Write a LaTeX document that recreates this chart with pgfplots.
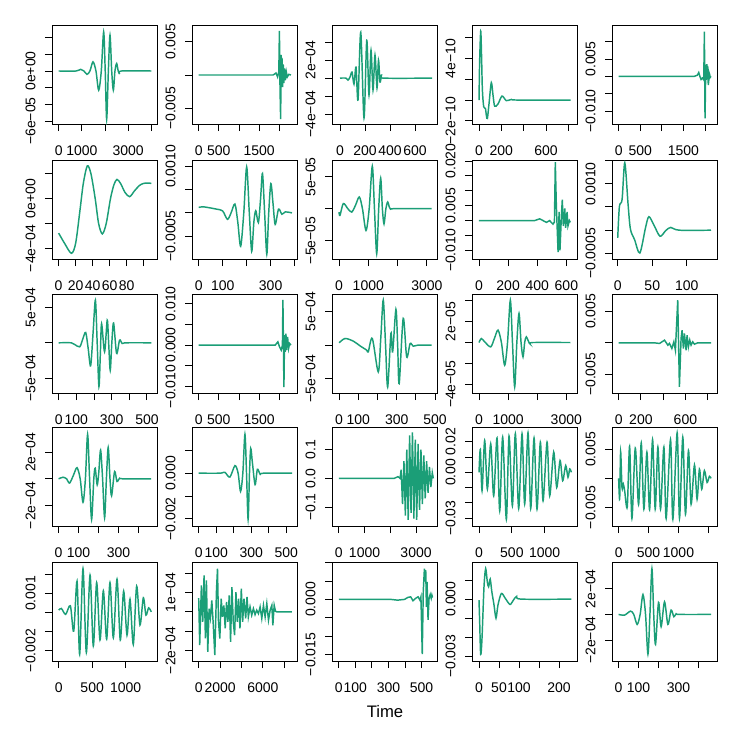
\documentclass[border=0pt]{standalone}
\usepackage{fontspec}
\setmainfont{Liberation Sans}
\usepackage{pgfplots}
\pgfplotsset{compat=1.18}
\definecolor{wave}{HTML}{1B9E77}
\pgfplotsset{
  P/.style={scale only axis, width=78.75pt, height=74.25pt, anchor=north west,
    axis line style={line width=0.7pt}, tick align=outside, xtick pos=bottom, ytick pos=left,
    major tick length=5.25pt, tick style={black, line width=0.7pt},
    scaled x ticks=false, scaled y ticks=false,
    tick label style={font=\fontsize{10.5}{12}\selectfont},
    xticklabel style={anchor=north, yshift=-7.4pt},
    yticklabel style={xshift=-3.5pt, rotate=90, anchor=south},
  },
  W/.style={color=wave, line width=1.1pt, mark=none},
  S/.style={W, smooth, tension=0.5},
}
\begin{document}
\begin{tikzpicture}
\path[use as bounding box] (0,0) rectangle (551.25pt,-551.25pt);
% ---------- row 1 ----------
\begin{axis}[P, at={(39pt,-18.75pt)}, xmin=-288, xmax=4245, ymin=-6.36, ymax=5.52,
  xtick={0,1000,2000,3000,4000}, xticklabels={0,1000,,3000,},
  ytick={-6,-4,-2,0,2,4}, yticklabels={−6e−05,,,0e+00,,}]
\addplot[S] coordinates {(0,0)(750,0)(950,0.2)(1090,0)(1223,-0.4)(1350,0)(1482,1.1)(1610,0)(1727,-2.3)(1840,0)(1942,4.7)(2010,0)(2072,-5.8)(2145,0)(2216,4.3)(2290,0)(2360,-2.3)(2430,0)(2504,0.9)(2570,0)(2633,-0.36)(2700,0)(4000,0)};
\end{axis}
\begin{axis}[P, at={(144pt,-18.75pt)}, xmin=-167, xmax=2442, ymin=-7.35, ymax=7.5,
  xtick={0,500,1000,1500,2000}, xticklabels={0,500,,1500,},
  ytick={-5,0,5}, yticklabels={−0.005,,0.005}]
\addplot[W] coordinates {(0,0)(1850,0)(1920,0.3)(1960,-0.3)(1990,0.5)(2005,6.6)(2020,-2)(2035,-6.6)(2050,3)(2062,-1)(2070,2.5)(2085,-1.8)(2100,1.6)(2115,-1.2)(2130,1)(2150,-0.8)(2175,0.5)(2200,-0.3)(2240,0.1)(2292,0)};
\end{axis}
\begin{axis}[P, at={(249pt,-18.75pt)}, xmin=-64, xmax=776, ymin=-5.1, ymax=5.9,
  xtick={0,200,400,600}, xticklabels={0,200,400,600},
  ytick={-4,-2,0,2,4}, yticklabels={−4e−04,,,2e−04,}]
\addplot[S] coordinates {(0,0)(48,0)(64,-0.22)(80,0.11)(96,0.67)(112,-0.67)(128,1.22)(144,-2.44)(166,5.1)(192,-4.44)(214,4.2)(232,-1.9)(248,3.1)(264,-1.33)(280,2.56)(296,-1.1)(308,2.0)(320,-0.44)(332,0.33)(344,0)(736,0)};
\end{axis}
\begin{axis}[P, at={(354pt,-18.75pt)}, xmin=-63, xmax=878, ymin=-2.3, ymax=7.2,
  xtick={0,200,400,600,800}, xticklabels={0,200,,600,},
  ytick={-2,0,2,4,6}, yticklabels={−2e−10,,,4e−10,}]
\addplot[S] coordinates {(0,0)(5,3.5)(15,6.6)(22,4.5)(30,1)(42,-0.64)(57,-0.8)(66,-1.5)(75,-1.76)(90,-0.3)(110,1.67)(125,0.5)(140,-0.58)(170,-0.38)(206,0.38)(245,-0.06)(290,0.06)(340,0)(820,0)};
\end{axis}
\begin{axis}[P, at={(459pt,-18.75pt)}, xmin=-154, xmax=2277, ymin=-13.75, ymax=14.8,
  xtick={0,500,1000,1500,2000}, xticklabels={0,500,,1500,},
  ytick={-10,-5,0,5,10}, yticklabels={−0.010,,,0.005,}]
\addplot[W] coordinates {(0,0)(1750,0)(1820,0.3)(1854,1.1)(1880,0)(1908,-0.9)(1940,-0.5)(1970,-1)(1985,12.9)(1995,-6)(2000,-12.1)(2010,-3)(2018,3.4)(2028,-1)(2040,3.5)(2050,-0.5)(2062,3)(2075,-2.5)(2085,-1.5)(2095,1)(2108,0.5)(2120,-0.3)(2138,0)};
\end{axis}
% ---------- row 2 ----------
\begin{axis}[P, at={(39pt,-120pt)}, xmin=-7.8, xmax=115.7, ymin=-4.86, ymax=3.1,
  xtick={0,20,40,60,80,100}, xticklabels={0,20,40,60,80,},
  ytick={-4,-2,0,2}, yticklabels={−4e−04,,0e+00,}]
\addplot[S] coordinates {(0,-2.78)(7,-3.6)(15,-4.4)(20,-3.6)(25,-1)(29,1.2)(33.7,2.62)(38,2)(43,0)(47,-2)(51.4,-2.84)(56,-2)(61,0)(65,1.1)(68.6,1.54)(73,1.2)(78,0.5)(83.5,0.15)(89,0.6)(95,1.05)(100,1.22)(105,1.25)(109,1.22)};
\end{axis}
\begin{axis}[P, at={(144pt,-120pt)}, xmin=-28, xmax=410, ymin=-9.95, ymax=11.4,
  xtick={0,100,200,300,400}, xticklabels={0,100,,300,},
  ytick={-5,0,5,10}, yticklabels={−0.0005,,,0.0010}]
\addplot[S] coordinates {(0,1.17)(20,1.3)(75,0.8)(100,0.4)(120,-1.4)(135,0)(151,1.9)(163,-2)(175,-7.2)(188,0)(200,9.9)(211,0)(221,-8.3)(230,-2)(238,0.44)(249,-2.1)(258,3)(266,8.5)(275,0)(284,-8.9)(292,0)(301,6.3)(310,2)(319,-2.5)(333,0.8)(347,-0.3)(361,0.2)(389,0)};
\end{axis}
\begin{axis}[P, at={(249pt,-120pt)}, xmin=-239, xmax=3345, ymin=-7.94, ymax=7.67,
  xtick={0,1000,2000,3000}, xticklabels={0,1000,,3000},
  ytick={-5,0,5}, yticklabels={−5e−05,,5e−05}]
\addplot[S] coordinates {(0,-0.54)(34,-1.06)(147,0.8)(300,0)(433,-0.54)(560,0.5)(693,1.84)(800,0)(922,-3.44)(1030,0)(1137,6.7)(1210,0)(1287,-7.1)(1355,0)(1423,4.8)(1480,0)(1536,-2.4)(1600,0)(1662,1.05)(1720,0.2)(1775,-0.16)(1877,0)(3164,0)};
\end{axis}
\begin{axis}[P, at={(354pt,-120pt)}, xmin=-48, xmax=673, ymin=-12.9, ymax=20.35,
  xtick={0,200,400,600}, xticklabels={0,200,400,600},
  ytick={-10,-5,0,5,10,15,20}, yticklabels={−0.010,,,0.005,,,0.020}]
\addplot[W] coordinates {(0,0)(382,0)(417,0.6)(440,0)(463,-0.6)(485,0)(508,-1.2)(518,-0.5)(524,19.6)(531,5.3)(543,-10.6)(550,2.9)(556,-10)(566,1.8)(572,7)(579,-1.8)(589,4.1)(595,-2.4)(605,2.9)(611,-1.8)(621,0)(627,-0.6)};
\end{axis}
\begin{axis}[P, at={(459pt,-120pt)}, xmin=-8.3, xmax=143.7, ymin=-6.2, ymax=15.1,
  xtick={0,50,100}, xticklabels={0,50,100},
  ytick={-5,0,5,10,15}, yticklabels={−0.0005,,,0.0010,}]
\addplot[S] coordinates {(0,-1.65)(2.4,5.1)(6.3,6.6)(10.2,14.5)(15,5.5)(18.4,0.2)(24.3,-2)(32,-4.9)(40.3,0.6)(45.1,2.9)(52.4,1.1)(61.2,-1.3)(69.4,-0.1)(76.7,0.6)(88.8,0)(135,0)};
\end{axis}
% ---------- row 3 ----------
\begin{axis}[P, at={(39pt,-220.5pt)}, xmin=-38, xmax=557, ymin=-7.1, ymax=6.9,
  xtick={0,100,200,300,400,500}, xticklabels={0,100,,300,,500},
  ytick={-5,0,5}, yticklabels={−5e−04,,5e−04}]
\addplot[S] coordinates {(0,0)(72,0)(91,-0.24)(119,-0.57)(136,0.5)(153,1.46)(167,-0.8)(181,-3.25)(195,1.5)(208,6.04)(218,0)(228,-6.2)(236,-1.5)(243,2.7)(260,-1.27)(275,3.2)(283,0)(292,-3.9)(301,0)(311,2.8)(328,-1.5)(345,0.38)(360,-0.1)(383,0)(525,0)};
\end{axis}
\begin{axis}[P, at={(144pt,-220.5pt)}, xmin=-167, xmax=2442, ymin=-11.6, ymax=12.4,
  xtick={0,500,1000,1500,2000}, xticklabels={0,500,,1500,},
  ytick={-10,-5,0,5,10}, yticklabels={−0.010,,0.000,,0.010}]
\addplot[W] coordinates {(0,0)(1900,0)(1967,0.8)(2008,-0.4)(2050,-1.2)(2080,0)(2092,11)(2117,-10.2)(2133,2.4)(2150,-1.6)(2167,2.8)(2183,-1.2)(2208,2)(2233,-0.8)(2258,0.4)(2292,0)};
\end{axis}
\begin{axis}[P, at={(249pt,-220.5pt)}, xmin=-37, xmax=510, ymin=-7.15, ymax=7.65,
  xtick={0,100,200,300,400,500}, xticklabels={0,100,,300,,500},
  ytick={-5,0,5}, yticklabels={−5e−04,,5e−04}]
\addplot[S] coordinates {(0,0.35)(31,1.0)(74,0.6)(109,-0.1)(144,-0.75)(152,-1.0)(173,1.0)(204,-4.0)(217,1)(230,6.75)(242,0)(253,-6.25)(270,1.75)(279,-1.0)(296,5.35)(305,0)(313,-5.75)(334,4.0)(352,-1.75)(370,0.25)(386,-0.15)(410,0)(482,0)};
\end{axis}
\begin{axis}[P, at={(354pt,-220.5pt)}, xmin=-241, xmax=3368, ymin=-4.84, ymax=4.65,
  xtick={0,1000,2000,3000}, xticklabels={0,1000,,3000},
  ytick={-4,-2,0,2,4}, yticklabels={−4e−05,,,2e−05,}]
\addplot[S] coordinates {(0,0)(80,0.38)(200,0.05)(401,-0.42)(530,0.4)(653,1.19)(770,0)(882,-2.18)(980,0)(1077,4.07)(1150,0)(1226,-4.26)(1300,0)(1375,2.79)(1445,0)(1512,-1.38)(1570,0)(1627,0.54)(1741,-0.1)(1850,0)(3139,0)};
\end{axis}
\begin{axis}[P, at={(459pt,-220.5pt)}, xmin=-60, xmax=884, ymin=-7.98, ymax=7.77,
  xtick={0,200,400,600,800}, xticklabels={0,200,,600,},
  ytick={-5,0,5}, yticklabels={−0.005,,0.005}]
\addplot[W] coordinates {(0,0)(322,0)(367,-0.1)(412,0.43)(442,-0.37)(457,-0.1)(478,-0.9)(496,0.16)(510,-1.17)(531,6.8)(546,-7.0)(561,0.7)(570,2.0)(582,-0.9)(591,1.5)(606,-1.17)(615,1.2)(627,-0.64)(639,0.43)(651,-0.37)(666,0.16)(681,-0.21)(710,0)(830,0)};
\end{axis}
% ---------- row 4 ----------
\begin{axis}[P, at={(39pt,-320.25pt)}, xmin=-33, xmax=492, ymin=-3.55, ymax=3.9,
  xtick={0,100,200,300,400}, xticklabels={0,100,,300,},
  ytick={-2,0,2}, yticklabels={−2e−04,,2e−04}]
\addplot[S] coordinates {(0,0)(22,0.12)(40,0)(55,-0.32)(75,0.3)(92,0.84)(108,0)(122,-1.76)(134,0)(145,3.35)(155,0)(165,-3.06)(176,0)(183,0.8)(193,-0.45)(201,0.5)(210,2.16)(220,0)(230,-2.93)(239,0)(248,2.36)(257,0)(265,-1.27)(280,0.55)(292,-0.2)(305,0.05)(322,0)(463,0)};
\end{axis}
\begin{axis}[P, at={(144pt,-320.25pt)}, xmin=-38, xmax=561, ymin=-2.31, ymax=2.02,
  xtick={0,100,200,300,400,500}, xticklabels={0,100,,300,,500},
  ytick={-2,-1,0,1}, yticklabels={−0.002,,0.000,}]
\addplot[S] coordinates {(0,0)(121,0)(149,0.04)(178,-0.17)(207,0.33)(225,0)(239,-0.8)(252,0)(264,1.7)(273,0)(282,-2.02)(290,0)(297,1.08)(307,0.43)(322,-0.5)(335,0.17)(351,-0.05)(370,0)(533,0)};
\end{axis}
\begin{axis}[P, at={(249pt,-320.25pt)}, xmin=-263, xmax=3813, ymin=-0.166, ymax=0.179,
  xtick={0,1000,2000,3000}, xticklabels={0,1000,,3000},
  ytick={-0.1,0,0.1}, yticklabels={−0.1,0.0,0.1}]
\addplot[W] coordinates {(0,0)(2150,0)(2300,0.006)(2380,0)(2420,0.03)(2475,-0.09)(2530,0.06)(2585,-0.13)(2640,0.10)(2695,-0.145)(2750,0.15)(2805,-0.12)(2860,0.16)(2915,-0.14)(2970,0.135)(3025,-0.145)(3080,0.12)(3135,-0.11)(3190,0.10)(3245,-0.09)(3300,0.08)(3355,-0.07)(3410,0.06)(3465,-0.05)(3520,0.04)(3575,-0.03)(3630,0.02)(3670,0)};
\end{axis}
\begin{axis}[P, at={(354pt,-320.25pt)}, xmin=-107, xmax=1492, ymin=-3.51, ymax=2.96,
  xtick={0,500,1000}, xticklabels={0,500,1000},
  ytick={-3,-2,-1,0,1,2}, yticklabels={−0.03,,,0.00,,0.02}]
\addplot[S] coordinates {(0,0)(20,1.49)(46,-1.2)(86,2.08)(127,-1.1)(178,1.86)(223,-1.54)(274,2.24)(315,-2.52)(360,2.3)(416,-3.07)(457,2.37)(508,-2.19)(553,2.52)(604,-2.37)(655,2.52)(695,-2.08)(746,2.59)(787,-2.37)(838,2.24)(883,-2.41)(934,1.97)(975,-1.86)(1036,1.97)(1076,-1.54)(1137,1.32)(1183,-0.99)(1234,0.77)(1274,-0.55)(1320,0.44)(1355,-0.33)(1381,0.22)(1406,0)};
\end{axis}
\begin{axis}[P, at={(459pt,-320.25pt)}, xmin=-111, xmax=1644, ymin=-8.2, ymax=8.84,
  xtick={0,500,1000,1500}, xticklabels={0,500,1000,},
  ytick={-5,0,5}, yticklabels={−0.005,,0.005}]
\addplot[S] coordinates {(0,0)(17,-3.6)(33,4.6)(56,-1.6)(78,-1.0)(100,-2.1)(144,-4.9)(183,5.5)(222,-6.9)(278,5.2)(333,-4.5)(378,6.1)(422,-5.3)(472,4.5)(517,-5.4)(567,6.7)(611,-5.3)(656,5.4)(700,-5.3)(756,5.4)(794,-6.9)(867,6.7)(906,-7.05)(978,7.86)(1017,-6.9)(1072,7.1)(1117,-6.2)(1167,4.8)(1211,-4.45)(1267,2.3)(1311,-3.6)(1350,1.6)(1389,-1.85)(1433,1.33)(1478,-0.7)(1517,0.35)(1544,0)};
\end{axis}
% ---------- row 5 ----------
\begin{axis}[P, at={(39pt,-421.5pt)}, xmin=-100, xmax=1468, ymin=-2.55, ymax=2.65,
  xtick={0,500,1000}, xticklabels={0,500,1000},
  ytick={-2,-1,0,1,2}, yticklabels={−0.002,,,0.001,}]
\addplot[S] coordinates {(0,0.12)(40,0.21)(104,-0.1)(174,0.35)(224,-0.98)(274,1.64)(313,-2.2)(363,2.3)(413,-2.1)(468,1.96)(517,-1.76)(567,1.57)(617,-1.45)(667,1.14)(716,-1.4)(766,1.57)(816,-1.33)(871,1.75)(920,-1.45)(970,1.12)(1020,-1.19)(1065,0.7)(1114,-1.68)(1164,1.38)(1214,-0.66)(1264,0.77)(1303,-0.14)(1343,0.24)(1383,0.03)};
\end{axis}
\begin{axis}[P, at={(144pt,-421.5pt)}, xmin=-627, xmax=9192, ymin=-2.55, ymax=2.59,
  xtick={0,2000,4000,6000,8000}, xticklabels={0,2000,,6000,},
  ytick={-2,-1,0,1,2}, yticklabels={−2e−04,,,1e−04,}]
\addplot[W] coordinates {(0,0.72)(94,-1.72)(251,1.38)(376,-0.52)(502,1.9)(627,-1.38)(722,1.64)(847,-2.07)(973,0.17)(1098,-0.3)(1224,0.6)(1349,-0.52)(1506,-2.24)(1663,1.12)(1757,2.24)(1851,-0.52)(1976,-1.38)(2102,0.69)(2227,-0.26)(2353,0.34)(2478,-0.86)(2604,0.52)(2729,-0.52)(2855,0.86)(2980,-1.55)(3106,1.29)(3231,-0.52)(3357,-1.21)(3482,1.03)(3608,-0.52)(3733,0.69)(3859,-0.86)(3984,1.21)(4110,-0.52)(4235,0.69)(4392,-0.34)(4518,0.78)(4643,-0.26)(4800,0.26)(4957,-0.17)(5114,0.17)(5271,-0.14)(5427,0.09)(5584,-0.09)(5741,0.26)(5898,-0.34)(6055,0.34)(6212,-0.26)(6369,0.43)(6525,-0.43)(6682,0.09)(6839,0.34)(6933,-0.7)(7059,0.34)(7184,0.03)(7310,0)(8722,0)};
\end{axis}
\begin{axis}[P, at={(249pt,-421.5pt)}, xmin=-41, xmax=593, ymin=-16.8, ymax=10.2,
  xtick={0,100,200,300,400,500}, xticklabels={0,100,,300,,500},
  ytick={-15,-10,-5,0,5,10}, yticklabels={−0.015,,,0.000,,}]
\addplot[W] coordinates {(0,0)(314,0)(355,-0.2)(397,0)(417,0.54)(434,0.7)(448,-0.36)(459,0.1)(469,0.45)(479,0.7)(490,-0.2)(496,0.7)(504,-14.9)(510,2.1)(517,8.4)(521,6.6)(525,8)(529,-2)(533,4.8)(539,-5.6)(545,0.3)(552,1.36)(558,0.3)(562,1.2)(566,0.5)};
\end{axis}
\begin{axis}[P, at={(354pt,-421.5pt)}, xmin=-17.5, xmax=245, ymin=-3.25, ymax=1.95,
  xtick={0,50,100,150,200}, xticklabels={0,50,100,,200},
  ytick={-3,-2,-1,0,1}, yticklabels={−0.003,,,0.000,}]
\addplot[S] coordinates {(0,-0.05)(1.7,-1.2)(4.2,-2.9)(7.5,-2.06)(12.5,0.65)(16.7,1.6)(20.8,0.9)(24,0.65)(28,1.05)(32,0.4)(37.5,-0.3)(42.5,-1.0)(47.5,-0.3)(56,0.3)(66,0.03)(77.5,-0.28)(86,-0.05)(94,0.14)(106,0)(231,0)};
\end{axis}
\begin{axis}[P, at={(459pt,-421.5pt)}, xmin=-33, xmax=493, ymin=-3.64, ymax=4.1,
  xtick={0,100,200,300,400}, xticklabels={0,100,,300,},
  ytick={-2,0,2}, yticklabels={−2e−04,,2e−04}]
\addplot[S] coordinates {(0,0)(30,-0.05)(60,0.26)(76,0)(93,-0.78)(108,0)(122,1.56)(135,0)(147,-3.1)(157,0)(167,3.58)(176,0)(185,-2.34)(200,0.94)(213,-0.96)(230,0.99)(247,-0.78)(263,0.34)(277,-0.18)(288,0.05)(305,0)(463,0)};
\end{axis}
\node[anchor=base, font=\fontsize{12.5}{14}\selectfont] at (288.75pt,-538pt) {Time};
\end{tikzpicture}
\end{document}
